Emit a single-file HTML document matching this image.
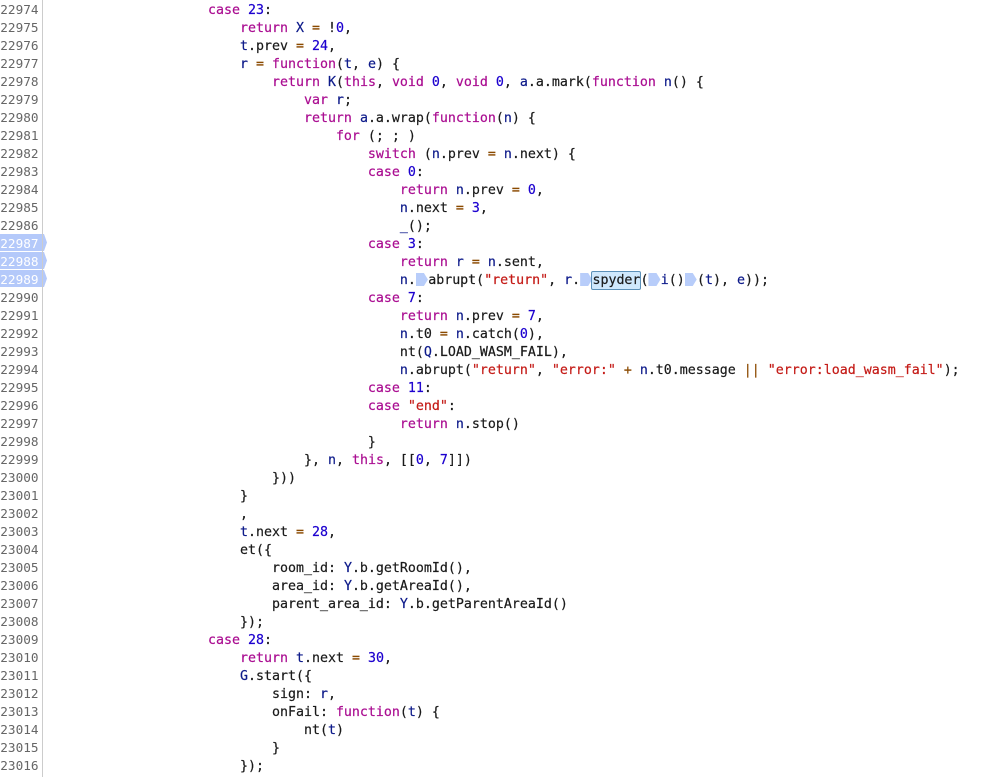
<!DOCTYPE html>
<html><head><meta charset="utf-8"><style>
html,body{margin:0;padding:0;background:#fff;width:1000px;height:777px;overflow:hidden}
body{position:relative}
#g{position:absolute;left:0;top:0;width:42px;height:777px;border-right:1px solid #ccc;box-sizing:content-box}
#g div{position:absolute;left:0;width:38.5px;height:18px;text-align:right;font:12.7px/18px "DejaVu Sans Mono","Liberation Mono",monospace;color:#666;margin-top:1px;white-space:nowrap;direction:rtl}
#g div.b{color:#fff;z-index:2}
.bp{position:absolute;left:0;width:47px;height:17px;background:#b4c9fa;clip-path:polygon(0 0,44px 0,47px 8.5px,44px 100%,0 100%)}
pre{position:absolute;left:208px;top:2px;margin:0;font:13.29px/18px "DejaVu Sans Mono","Liberation Mono",monospace;color:#1a1a1a;white-space:pre;-webkit-text-stroke:0.2px}
.k{color:#aa0d91}.n{color:#1c00cf}.s{color:#c41a16}.v{color:#0d1a8a}.o{color:#8b4a00}
.m{display:inline-block;width:12.3px;height:13px;background:#b8cdfa;vertical-align:-2px;clip-path:polygon(0 0,8px 0,12px 6.5px,8px 100%,0 100%)}
.h{position:relative;z-index:0}
.h:before{content:"";position:absolute;left:-1px;right:-1px;top:-2px;bottom:-2px;background:#cfe8fc;border:1px solid #5c90b8;border-radius:2px;z-index:-1;box-sizing:border-box}
</style></head><body>
<div class="bp" style="top:234px"></div><div class="bp" style="top:252px"></div><div class="bp" style="top:270px"></div>
<div id="g">
<div style="top:0">22974</div><div style="top:18px">22975</div><div style="top:36px">22976</div><div style="top:54px">22977</div><div style="top:72px">22978</div><div style="top:90px">22979</div><div style="top:108px">22980</div><div style="top:126px">22981</div><div style="top:144px">22982</div><div style="top:162px">22983</div><div style="top:180px">22984</div><div style="top:198px">22985</div><div style="top:216px">22986</div><div class="b" style="top:234px">22987</div><div class="b" style="top:252px">22988</div><div class="b" style="top:270px">22989</div><div style="top:288px">22990</div><div style="top:306px">22991</div><div style="top:324px">22992</div><div style="top:342px">22993</div><div style="top:360px">22994</div><div style="top:378px">22995</div><div style="top:396px">22996</div><div style="top:414px">22997</div><div style="top:432px">22998</div><div style="top:450px">22999</div><div style="top:468px">23000</div><div style="top:486px">23001</div><div style="top:504px">23002</div><div style="top:522px">23003</div><div style="top:540px">23004</div><div style="top:558px">23005</div><div style="top:576px">23006</div><div style="top:594px">23007</div><div style="top:612px">23008</div><div style="top:630px">23009</div><div style="top:648px">23010</div><div style="top:666px">23011</div><div style="top:684px">23012</div><div style="top:702px">23013</div><div style="top:720px">23014</div><div style="top:738px">23015</div><div style="top:756px">23016</div>
</div>
<pre><span class="k">case</span> <span class="n">23</span>:
    <span class="k">return</span> <span class="v">X</span> <span class="o">=</span> !<span class="n">0</span>,
    <span class="v">t</span>.prev <span class="o">=</span> <span class="n">24</span>,
    <span class="v">r</span> <span class="o">=</span> <span class="k">function</span>(<span class="v">t</span>, <span class="v">e</span>) {
        <span class="k">return</span> <span class="v">K</span>(<span class="k">this</span>, <span class="k">void</span> <span class="n">0</span>, <span class="k">void</span> <span class="n">0</span>, <span class="v">a</span>.a.mark(<span class="k">function</span> <span class="v">n</span>() {
            <span class="k">var</span> <span class="v">r</span>;
            <span class="k">return</span> <span class="v">a</span>.a.wrap(<span class="k">function</span>(<span class="v">n</span>) {
                <span class="k">for</span> (; ; )
                    <span class="k">switch</span> (<span class="v">n</span>.prev <span class="o">=</span> <span class="v">n</span>.next) {
                    <span class="k">case</span> <span class="n">0</span>:
                        <span class="k">return</span> <span class="v">n</span>.prev <span class="o">=</span> <span class="n">0</span>,
                        <span class="v">n</span>.next <span class="o">=</span> <span class="n">3</span>,
                        <span class="v">_</span>();
                    <span class="k">case</span> <span class="n">3</span>:
                        <span class="k">return</span> <span class="v">r</span> <span class="o">=</span> <span class="v">n</span>.sent,
                        <span class="v">n</span>.<span class="m"></span>abrupt(<span class="s">"return"</span>, <span class="v">r</span>.<span class="m"></span><span class="h">spyder</span>(<span class="m"></span><span class="v">i</span>()<span class="m"></span>(<span class="v">t</span>), <span class="v">e</span>));
                    <span class="k">case</span> <span class="n">7</span>:
                        <span class="k">return</span> <span class="v">n</span>.prev <span class="o">=</span> <span class="n">7</span>,
                        <span class="v">n</span>.t0 <span class="o">=</span> <span class="v">n</span>.catch(<span class="n">0</span>),
                        nt(<span class="v">Q</span>.LOAD_WASM_FAIL),
                        <span class="v">n</span>.abrupt(<span class="s">"return"</span>, <span class="s">"error:"</span> <span class="o">+</span> <span class="v">n</span>.t0.message <span class="o">||</span> <span class="s">"error:load_wasm_fail"</span>);
                    <span class="k">case</span> <span class="n">11</span>:
                    <span class="k">case</span> <span class="s">"end"</span>:
                        <span class="k">return</span> <span class="v">n</span>.stop()
                    }
            }, <span class="v">n</span>, <span class="k">this</span>, [[<span class="n">0</span>, <span class="n">7</span>]])
        }))
    }
    ,
    <span class="v">t</span>.next <span class="o">=</span> <span class="n">28</span>,
    et({
        room_id: <span class="v">Y</span>.b.getRoomId(),
        area_id: <span class="v">Y</span>.b.getAreaId(),
        parent_area_id: <span class="v">Y</span>.b.getParentAreaId()
    });
<span class="k">case</span> <span class="n">28</span>:
    <span class="k">return</span> <span class="v">t</span>.next <span class="o">=</span> <span class="n">30</span>,
    <span class="v">G</span>.start({
        sign: <span class="v">r</span>,
        onFail: <span class="k">function</span>(<span class="v">t</span>) {
            nt(<span class="v">t</span>)
        }
    });</pre>
</body></html>
